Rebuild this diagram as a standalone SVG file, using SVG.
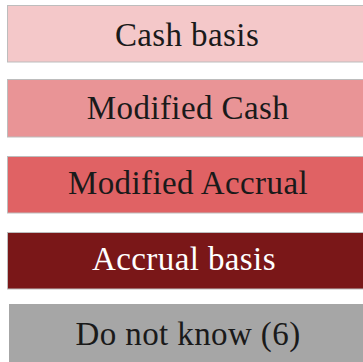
<svg xmlns="http://www.w3.org/2000/svg" width="363" height="362" viewBox="0 0 363 362">
  <style>
    .bar { stroke: #bdbdbd; stroke-width: 1; }
    .lbl { font-family: "Liberation Serif", "Times New Roman", serif; font-size: 33px; letter-spacing: 0.4px; text-anchor: middle; fill: #1a1a1a; }
    .light { fill: #ffffff; }
  </style>
  <rect x="0" y="0" width="363" height="362" fill="#ffffff"/>
  <g id="cash-basis">
    <rect class="bar" x="7.5" y="5.5" width="360" height="56.5" fill="#f4c8c9"/>
    <text class="lbl" x="187" y="46">Cash basis</text>
  </g>
  <g id="modified-cash">
    <rect class="bar" x="7.5" y="79.5" width="360" height="57.5" fill="#e99496"/>
    <text class="lbl" x="188" y="119">Modified Cash</text>
  </g>
  <g id="modified-accrual">
    <rect class="bar" x="7.5" y="156.5" width="360" height="56.5" fill="#e06264"/>
    <text class="lbl" x="188" y="194">Modified Accrual</text>
  </g>
  <g id="accrual-basis">
    <rect class="bar" x="7.5" y="232.5" width="360" height="56.5" fill="#7a1718"/>
    <text class="lbl light" x="184" y="270">Accrual basis</text>
  </g>
  <g id="do-not-know">
    <rect x="9" y="304" width="360" height="60" fill="#a6a6a6"/>
    <text class="lbl" x="188" y="345">Do not know (6)</text>
  </g>
  <g id="connectors"/>
</svg>
